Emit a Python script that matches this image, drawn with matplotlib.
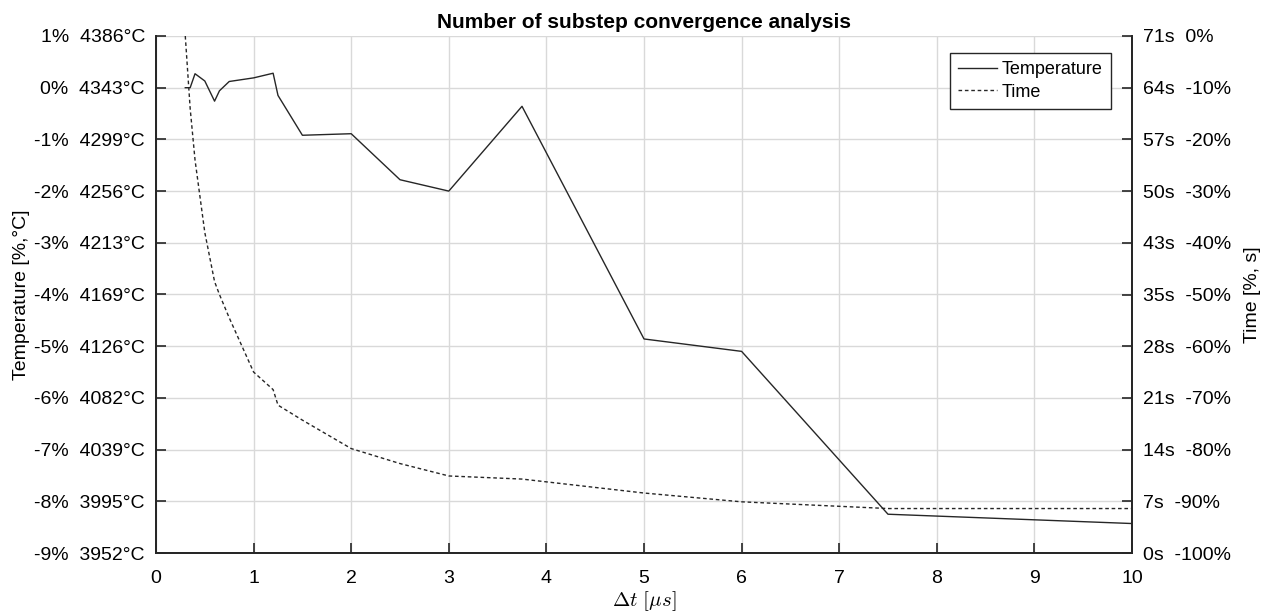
import numpy as np
import matplotlib
matplotlib.use("Agg")
import matplotlib.pyplot as plt
from matplotlib.lines import Line2D

plt.rcParams["font.family"] = ["Liberation Sans", "DejaVu Sans"]
plt.rcParams["mathtext.fontset"] = "cm"

# substep size [us] and relative changes w.r.t. the smallest step
dt = [0.3, 0.35, 0.4, 0.5, 0.6, 0.65, 0.75, 1.0, 1.2, 1.25, 1.5, 2.0, 2.5, 3.0,
      3.75, 5.0, 6.0, 7.5, 10.0]
temp_pct = [0.0, 0.0, 0.27, 0.13, -0.26, -0.06, 0.12, 0.19, 0.28, -0.15, -0.92,
            -0.89, -1.78, -2.0, -0.36, -4.86, -5.10, -8.25, -8.43]
time_pct = [0.0, -14.0, -24.0, -38.0, -47.5, -50.0, -54.5, -65.0, -68.4, -71.4,
            -74.3, -79.8, -82.7, -85.1, -85.7, -88.4, -90.1, -91.4, -91.4]

temp_ticks = [1, 0, -1, -2, -3, -4, -5, -6, -7, -8, -9]
temp_labels = ["4386", "4343", "4299", "4256", "4213", "4169", "4126", "4082",
               "4039", "3995", "3952"]
time_ticks = [0, -10, -20, -30, -40, -50, -60, -70, -80, -90, -100]
time_labels = ["71", "64", "57", "50", "43", "35", "28", "21", "14", "7", "0"]

line_col = "#262626"
fs = 14
dash = (2.6, 2.0)

fig = plt.figure(figsize=(12.67, 6.11), dpi=100)
ax = fig.add_axes([156 / 1267, 1 - 553 / 611, 976 / 1267, 517 / 611])
ax2 = ax.twinx()

ax.plot(dt, temp_pct, color=line_col, lw=1.0, label="Temperature")
ax2.plot(dt, time_pct, color=line_col, lw=1.0, dashes=dash, label="Time")

ax.set_xlim(0, 10)
ax.set_ylim(-9, 1)
ax2.set_ylim(-100, 0)
ax.set_xticks(range(11))
ax.set_yticks(temp_ticks)
ax.set_yticklabels([f"{t}%  {l}°C" for t, l in zip(temp_ticks, temp_labels)])
ax2.set_yticks(time_ticks)
ax2.set_yticklabels([f"{l}s  {t}%" for t, l in zip(time_ticks, time_labels)])

ax.grid(True, color="#d9d9d9", lw=1.0)
ax.set_axisbelow(True)
for a in (ax, ax2):
    a.tick_params(direction="in", length=7, width=1.2, colors="#262626",
                  labelsize=fs, labelcolor="black")
    a.spines["top"].set_visible(False)
    for s in ("left", "bottom", "right"):
        a.spines[s].set_color("#262626")
        a.spines[s].set_linewidth(1.3)
ax.tick_params(axis="y", pad=8)
ax2.tick_params(axis="y", pad=8)
ax.tick_params(axis="x", pad=12)

ax.set_xlabel(r"$\Delta t\ [\mu s]$", fontsize=fs + 1, labelpad=2)
ax.set_ylabel("Temperature [%,°C]", fontsize=fs, labelpad=3)
ax2.set_ylabel("Time [%, s]", fontsize=fs, labelpad=9)
ax.set_title("Number of substep convergence analysis", fontsize=15,
             fontweight="bold", pad=6)

handles = [Line2D([], [], color=line_col, lw=1.0),
           Line2D([], [], color=line_col, lw=1.0, dashes=dash)]
leg = ax2.legend(handles, ["Temperature", "Time"], loc="upper right",
                 bbox_to_anchor=(0.9785, 0.967), fontsize=13, frameon=True,
                 fancybox=False, edgecolor="#262626", framealpha=1,
                 borderpad=0.45, handlelength=2.15, labelspacing=0.3,
                 handletextpad=0.3, borderaxespad=0)
leg.get_frame().set_linewidth(1.0)

fig.savefig("out.png", dpi=100)
